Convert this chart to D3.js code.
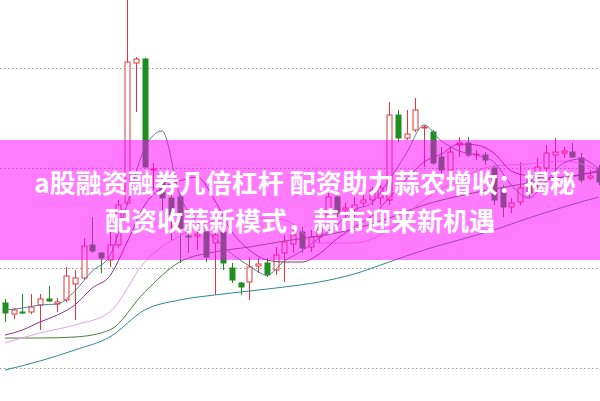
<!DOCTYPE html>
<html><head><meta charset="utf-8">
<script src="https://cdn.jsdelivr.net/npm/d3@7"></script>
<style>html,body{margin:0;padding:0;background:#fff;overflow:hidden}</style>
</head><body><svg id="c" width="600" height="401"></svg>
<script>
// ---- data ----
const openP  = [10.65,10.54,10.56,10.56,10.63,10.69,10.64,10.68,10.84,10.90,11.23,11.15,11.08,11.23,11.65,13.05,13.09,11.98,11.86,11.70,11.71,11.32,11.32,11.36,11.25,11.36,11.00,10.85,10.86,11.02,11.05,10.98,11.15,11.24,11.36,11.21,11.31,11.53,11.71,11.58,11.58,11.65,11.68,11.70,11.68,12.53,12.30,12.38,12.40,12.36,12.11,11.98,12.23,12.25,12.13,12.13,12.00,11.80,11.61,11.66,11.88,11.90,12.00,12.13,12.15,12.16,12.10,11.90,12.00];
const closeP = [10.55,10.58,10.55,10.61,10.69,10.67,10.66,10.92,10.90,11.22,11.17,11.10,11.23,11.63,13.06,13.09,12.01,11.99,11.70,11.53,11.40,11.31,11.34,11.11,11.33,11.05,10.88,10.81,11.01,11.04,10.93,11.13,11.26,11.33,11.20,11.31,11.40,11.71,11.55,11.60,11.63,11.68,11.78,11.80,12.53,12.30,12.34,12.58,12.41,12.05,11.98,12.16,12.25,12.13,12.14,12.08,11.68,11.61,11.65,11.80,11.75,12.01,12.15,12.16,12.17,12.11,11.88,11.92,11.86];
const highP  = [10.69,10.60,10.74,10.74,10.74,10.82,10.70,11.01,10.98,11.30,11.51,11.16,11.38,11.68,13.78,13.11,13.10,12.05,11.93,11.83,11.73,11.35,11.36,11.41,11.41,11.41,11.05,10.86,11.11,11.10,11.10,11.21,11.33,11.38,11.41,11.38,11.43,11.75,11.75,11.65,11.71,11.75,11.81,11.83,12.66,12.58,12.58,12.70,12.43,12.38,12.21,12.21,12.31,12.31,12.18,12.16,12.03,11.83,11.70,12.06,11.93,12.10,12.23,12.30,12.21,12.25,12.15,11.98,12.03];
const lowP   = [10.46,10.49,10.54,10.54,10.38,10.66,10.56,10.66,10.48,10.88,11.15,10.95,11.01,11.20,11.63,12.56,12.00,11.78,11.58,11.28,11.05,11.15,11.18,11.06,10.73,10.98,10.85,10.73,10.68,10.95,10.91,10.93,10.86,11.15,11.15,11.16,11.25,11.51,11.51,11.51,11.51,11.61,11.63,11.63,11.63,12.26,12.28,12.36,12.01,12.03,11.95,11.95,12.11,12.11,12.08,12.03,11.63,11.51,11.55,11.63,11.70,11.78,11.86,11.91,12.10,12.10,11.85,11.88,11.83];

// moving averages, sampled at every 2nd / 4th session
const maIdx2 = [0,2,4,6,8,10,12,14,16,18,20,22,24,26,28,30,32,34,36,38,40,42,44,46,48,50,52,54,56,58,60,62,64,66,68];
const maIdx4 = [0,4,8,12,16,20,24,28,32,36,40,44,48,52,56,60,64,68];
const ma5   = [10.58,10.60,10.63,10.64,10.77,10.97,11.12,11.64,12.20,12.37,11.73,11.46,11.30,11.14,11.02,10.93,11.07,11.17,11.30,11.43,11.58,11.65,11.88,12.15,12.43,12.27,12.17,12.13,12.06,11.83,11.70,11.87,12.05,12.09,11.99];
const ma10  = [10.33,10.38,10.46,10.53,10.63,10.80,10.92,11.26,11.63,11.80,11.87,11.91,11.68,11.36,11.18,11.08,11.06,11.06,11.14,11.29,11.41,11.52,11.70,11.89,12.06,12.14,12.24,12.23,12.15,11.97,11.92,11.90,11.91,11.93,11.98];
const ma20  = [10.25,10.35,10.43,10.56,11.06,11.32,11.47,11.50,11.48,11.25,11.25,11.38,11.68,11.88,12.02,12.04,12.07,11.98];
const ma60  = [10.30,10.30,10.31,10.38,10.76,11.06,11.16,11.21,11.27,11.32,11.39,11.50,11.63,11.72,11.79,11.85,11.91,11.96];
const ma120 = [9.98,10.07,10.18,10.31,10.58,10.68,10.73,10.77,10.81,10.86,10.94,11.06,11.18,11.28,11.38,11.50,11.61,11.71];

const gridTicks = [10, 11, 12, 13];
const titleLines = ["a股融资融券几倍杠杆 配资助力蒜农增收：揭秘", "配资收蒜新模式，蒜市迎来新机遇"];

// ---- drawing ----
const W = 600, H = 401;
const svg = d3.select("#c");
const n = openP.length;
const x = d3.scaleLinear().domain([0, n - 1]).range([5, 598.6]);
const y = d3.scaleLinear().domain([9.67, 13.68]).range([H, 0]);
const up = "#e0383a", down = "#1f8f1f";

svg.append("rect").attr("width", W).attr("height", H).attr("fill", "#fff");

svg.append("g").selectAll("line").data(gridTicks).join("line")
  .attr("x1", 0).attr("x2", W)
  .attr("y1", d => Math.round(y(d)) + 0.5).attr("y2", d => Math.round(y(d)) + 0.5)
  .attr("stroke", "#9a9a9a").attr("stroke-width", 1).attr("stroke-dasharray", "1.5,2.5");

const cx = i => Math.round(x(i)) + 0.5;
const candles = svg.append("g").selectAll("g").data(d3.range(n)).join("g");
candles.append("line")
  .attr("x1", cx).attr("x2", cx)
  .attr("y1", i => y(highP[i])).attr("y2", i => y(lowP[i]))
  .attr("stroke", i => closeP[i] >= openP[i] ? up : down).attr("stroke-width", 1);
candles.append("rect")
  .attr("x", i => cx(i) - 2.5)
  .attr("width", 5)
  .attr("y", i => y(Math.max(openP[i], closeP[i])))
  .attr("height", i => Math.max(1, Math.abs(y(openP[i]) - y(closeP[i]))))
  .attr("fill", i => closeP[i] >= openP[i] ? "#fff" : down)
  .attr("stroke", i => closeP[i] >= openP[i] ? up : down)
  .attr("stroke-width", 1);

const lines = [
  {idx: maIdx4, v: ma120, c: "#2f8a8c"},
  {idx: maIdx4, v: ma60,  c: "#4e7d3c"},
  {idx: maIdx4, v: ma20,  c: "#e6a3df"},
  {idx: maIdx2, v: ma10,  c: "#8e2f8a"},
  {idx: maIdx2, v: ma5,   c: "#5e7890"}
];
lines.forEach(L => {
  const gen = d3.line().x((d, k) => x(L.idx[k])).y(d => y(d)).curve(d3.curveMonotoneX);
  svg.append("path").attr("d", gen(L.v)).attr("fill", "none")
    .attr("stroke", L.c).attr("stroke-width", 1);
});

// banner overlay
svg.append("rect").attr("x", 0).attr("y", 140).attr("width", W).attr("height", 120)
  .attr("fill", "#ff00ff").attr("fill-opacity", 0.52);

svg.append("g").selectAll("text").data(titleLines).join("text")
  .attr("x", (d, i) => i === 0 ? 305 : 300)
  .attr("y", (d, i) => 193 + i * 38)
  .attr("text-anchor", "middle")
  .attr("fill", "#fff")
  .attr("font-family", "'Noto Sans CJK SC', 'Noto Sans', sans-serif")
  .attr("font-weight", "bold")
  .attr("font-size", 26)
  .text(d => d);
</script>
</body></html>
